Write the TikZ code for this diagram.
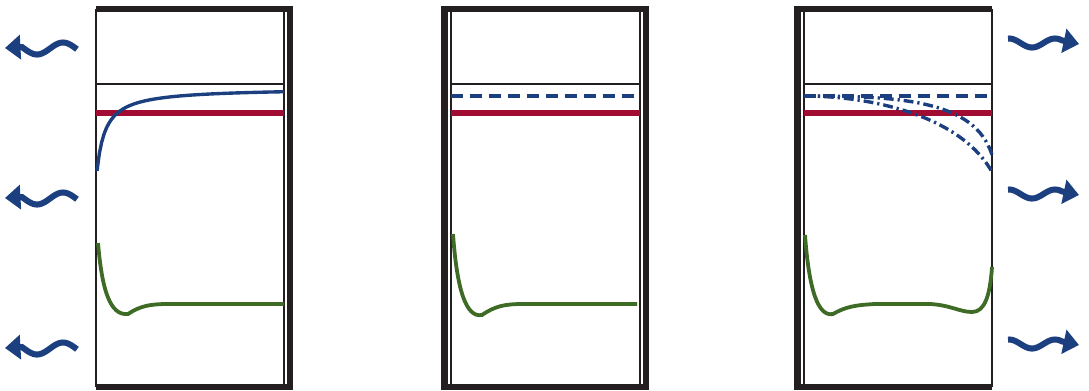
\documentclass[tikz,border=0pt]{standalone}
\usetikzlibrary{arrows.meta}
\definecolor{wallgray}{HTML}{231F20}
\definecolor{navy}{HTML}{1C3F7F}
\definecolor{crimson}{HTML}{A20B32}
\definecolor{leaf}{HTML}{3E6B26}
\begin{document}
\begin{tikzpicture}
    [x=0.025cm,y=-0.025cm,
    wall/.style={wallgray,line width=4.6pt},
    liner/.style={wallgray,line width=1pt},
    level/.style={crimson,line width=4.4pt},
    profile/.style={navy,line width=2.4pt},
    density/.style={leaf,line width=2.7pt},
    wave/.style={navy,line width=4.3pt,-{Triangle[length=11pt,width=17pt]}}]
    \useasboundingbox (0,0) rectangle (1089,390);
    %box 1
    \draw[wall] (96,9)--(293,9);
    \draw[wall] (290,6)--(290,390);
    \draw[wall] (96,387)--(293,387);
    \draw[liner] (96,9)--(96,387);
    \draw[liner] (284,9)--(284,387);
    \draw[liner] (96,84)--(284,84);
    %box 2
    \draw[wall] (442,9)--(649,9);
    \draw[wall] (444.5,6)--(444.5,390);
    \draw[wall] (646,6)--(646,390);
    \draw[wall] (442,387)--(649,387);
    \draw[liner] (451,9)--(451,387);
    \draw[liner] (640,9)--(640,387);
    \draw[liner] (451,84)--(640,84);
    %box 3
    \draw[wall] (794,9)--(992,9);
    \draw[wall] (797.5,6)--(797.5,390);
    \draw[wall] (794,387)--(992,387);
    \draw[liner] (804,9)--(804,387);
    \draw[liner] (992,9)--(992,387);
    \draw[liner] (804,84)--(992,84);
    %red levels
    \draw[level] (96,113)--(284,113);
    \draw[level] (451,113)--(640,113);
    \draw[level] (804,113)--(992,113);
    %blue profiles
    \draw[profile] plot[domain=97:284,samples=80] (\x,{88+730/(\x-88.2)});
    \draw[profile,dash pattern=on 8.5pt off 5pt] (451,96)--(640,96);
    \draw[profile,dash pattern=on 8.5pt off 5pt] (804,96)--(992,96);
    \draw[profile,dash pattern=on 7pt off 2.8pt on 1.6pt off 2.8pt]
    (804,96) .. controls (900,96) and (975,100) .. (992,155);
    \draw[profile,dash pattern=on 7pt off 2.8pt on 1.6pt off 2.8pt]
    (804,96) .. controls (870,96) and (960,115) .. (992,172);
    %green curves
    \draw[density] (98,243) .. controls (102,290) and (110,316) .. (128,314)
    .. controls (140,306) and (150,304) .. (168,304) -- (284,304);
    \draw[density] (453,234) .. controls (457,290) and (466,318) .. (482,315)
    .. controls (495,306) and (505,304) .. (523,304) -- (637,304);
    \draw[density] (805,235) .. controls (809,290) and (818,317) .. (833,314)
    .. controls (845,307) and (855,305) .. (875,304) -- (930,304)
    .. controls (950,305) and (960,312) .. (972,312)
    .. controls (985,312) and (990,295) .. (992,267);
    %wavy arrows
    \foreach \y in {48,198,348}
    \draw[wave,shift={(5,\y)}] plot[domain=72:17,samples=40]
    (\x,{0.5+6*cos((\x-32)/52*360)}) -- (0,0);
    \foreach \y in {44,195,345}
    \draw[wave,shift={(1079,\y)},xscale=-1] plot[domain=71:17,samples=40]
    (\x,{-1-4.5*cos((\x-24)/46*360)}) -- (0,0);
\end{tikzpicture}
\end{document}
